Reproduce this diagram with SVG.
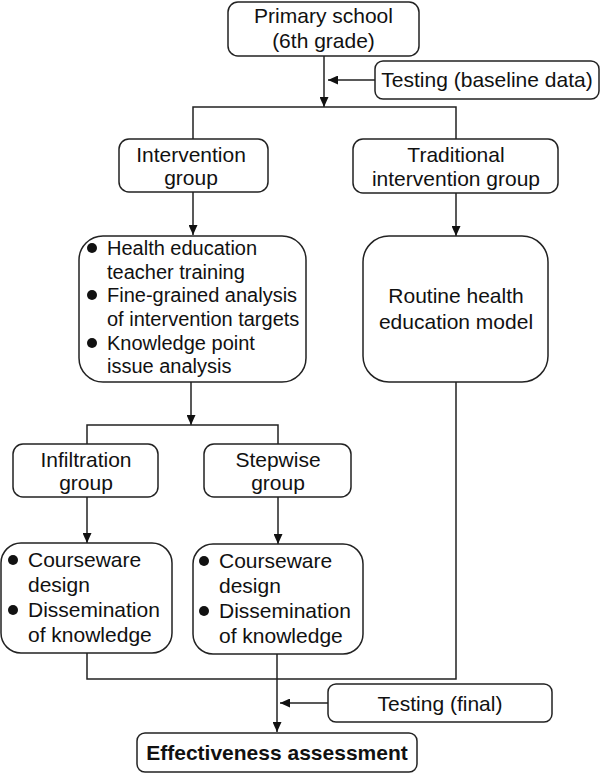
<svg xmlns="http://www.w3.org/2000/svg" width="600" height="773" viewBox="0 0 600 773">
<defs>
<style>
.box{fill:#fff;stroke:#222;stroke-width:1.5}
.ln{fill:none;stroke:#222;stroke-width:1.5}
text{font-family:"Liberation Sans",Arial,sans-serif;fill:#111;font-size:21px}
.c{text-anchor:middle}
.s{font-size:20px}
.b{font-weight:bold}
.dot{fill:#111}
</style>
<marker id="ah" markerUnits="userSpaceOnUse" markerWidth="10" markerHeight="9" refX="10" refY="4.5" orient="auto">
<path d="M0,0 L10,4.5 L0,9 z" fill="#111"/>
</marker>
</defs>
<g id="connectors">
<line class="ln" x1="324" y1="56" x2="324" y2="107" marker-end="url(#ah)"/>
<line class="ln" x1="375" y1="80" x2="328" y2="80" marker-end="url(#ah)"/>
<polyline class="ln" points="193,139 193,107 456,107 456,139"/>
<line class="ln" x1="193" y1="192" x2="193" y2="235" marker-end="url(#ah)"/>
<line class="ln" x1="456" y1="193" x2="456" y2="236" marker-end="url(#ah)"/>
<line class="ln" x1="191" y1="382" x2="191" y2="425" marker-end="url(#ah)"/>
<polyline class="ln" points="87,444 87,425 278,425 278,444"/>
<line class="ln" x1="87" y1="497" x2="87" y2="543" marker-end="url(#ah)"/>
<line class="ln" x1="278" y1="497" x2="278" y2="544" marker-end="url(#ah)"/>
<polyline class="ln" points="87,653 87,679 456,679 456,381"/>
<line class="ln" x1="277" y1="654" x2="277" y2="732" marker-end="url(#ah)"/>
<line class="ln" x1="328" y1="703" x2="280" y2="703" marker-end="url(#ah)"/>
</g>
<g id="primary">
<rect class="box" x="228" y="2" width="191" height="54" rx="10"/>
<text class="c" x="323.5" y="23">Primary school</text>
<text class="c" x="323.5" y="48">(6th grade)</text>
</g>
<g id="testing-baseline">
<rect class="box" x="375" y="61" width="224" height="38" rx="8"/>
<text class="c" x="487" y="87">Testing (baseline data)</text>
</g>
<g id="intervention">
<rect class="box" x="119" y="139" width="149" height="53" rx="10"/>
<text class="c" x="191" y="162">Intervention</text>
<text class="c" x="191" y="185">group</text>
</g>
<g id="traditional">
<rect class="box" x="353" y="139" width="205" height="54" rx="10"/>
<text class="c" x="456" y="162">Traditional</text>
<text class="c" x="456" y="186">intervention group</text>
</g>
<g id="health-tasks">
<rect class="box" x="79" y="236" width="227" height="146" rx="24"/>
<circle class="dot" cx="92" cy="248" r="5"/>
<circle class="dot" cx="92" cy="295" r="5"/>
<circle class="dot" cx="92" cy="343" r="5"/>
<text class="s" x="107" y="255">Health education</text>
<text class="s" x="107" y="279">teacher training</text>
<text class="s" x="107" y="302">Fine-grained analysis</text>
<text class="s" x="107" y="326">of intervention targets</text>
<text class="s" x="107" y="350">Knowledge point</text>
<text class="s" x="107" y="373">issue analysis</text>
</g>
<g id="routine">
<rect class="box" x="363" y="236" width="185" height="146" rx="26"/>
<text class="c" x="456" y="303">Routine health</text>
<text class="c" x="456" y="329">education model</text>
</g>
<g id="infiltration">
<rect class="box" x="13" y="444" width="145" height="53" rx="10"/>
<text class="c" x="86" y="467">Infiltration</text>
<text class="c" x="86" y="490">group</text>
</g>
<g id="stepwise">
<rect class="box" x="204" y="444" width="147" height="53" rx="10"/>
<text class="c" x="278" y="467">Stepwise</text>
<text class="c" x="278" y="490">group</text>
</g>
<g id="courseware-1">
<rect class="box" x="1" y="543" width="171" height="110" rx="20"/>
<circle class="dot" cx="13" cy="560" r="5"/>
<circle class="dot" cx="13" cy="610" r="5"/>
<text x="28" y="567">Courseware</text>
<text x="28" y="592">design</text>
<text x="28" y="617">Dissemination</text>
<text x="28" y="642">of knowledge</text>
</g>
<g id="courseware-2">
<rect class="box" x="193" y="544" width="170" height="110" rx="20"/>
<circle class="dot" cx="204" cy="561" r="5"/>
<circle class="dot" cx="204" cy="611" r="5"/>
<text x="219" y="568">Courseware</text>
<text x="219" y="593">design</text>
<text x="219" y="618">Dissemination</text>
<text x="219" y="643">of knowledge</text>
</g>
<g id="testing-final">
<rect class="box" x="328" y="684" width="224" height="38" rx="8"/>
<text class="c" x="440" y="711">Testing (final)</text>
</g>
<g id="assessment">
<rect class="box" x="137" y="733" width="280" height="39" rx="8"/>
<text class="c b" x="277" y="760">Effectiveness assessment</text>
</g>
</svg>
